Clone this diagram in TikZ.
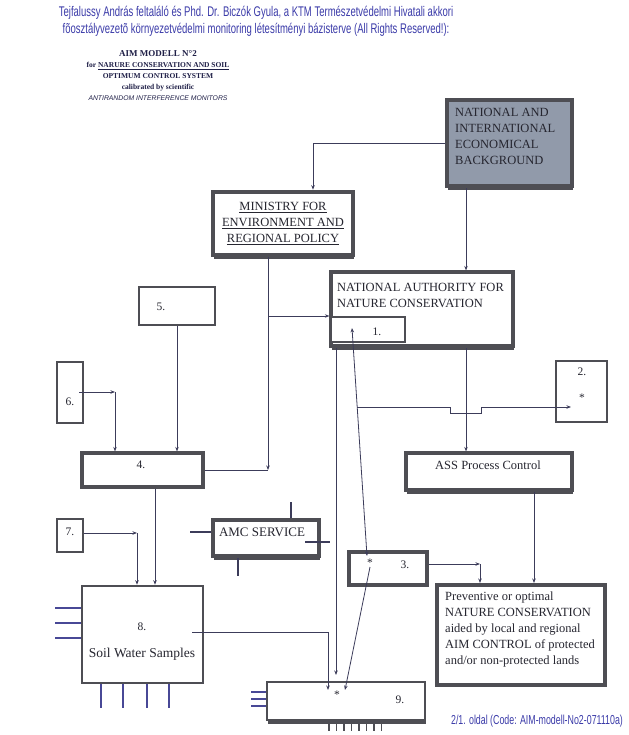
\documentclass[tikz,border=0pt]{standalone}
\usepackage{fontspec}
\setmainfont{Liberation Serif}
\newfontfamily\headfont[FakeStretch=0.68]{Liberation Sans}
\newfontfamily\monitorfont{Liberation Sans}
\usetikzlibrary{arrows.meta,shadows}
\definecolor{headblue}{RGB}{58,58,168}
\definecolor{boxgray}{RGB}{78,78,84}
\definecolor{wire}{RGB}{60,60,90}
\definecolor{ink}{RGB}{38,38,48}
\definecolor{navy}{RGB}{30,30,70}
\definecolor{bgfill}{RGB}{145,154,170}
\definecolor{stubblue}{RGB}{72,72,150}
\tikzset{
	panel/.style={draw=boxgray, line width=3.2bp, fill=white, inner sep=0pt},
	thinpanel/.style={panel, line width=1.6bp},
	shadowed/.style={drop shadow={shadow xshift=1bp, shadow yshift=-4bp, opacity=1, fill=boxgray}},
	txt/.style={inner sep=0pt, text=ink, font=\fontsize{12.5bp}{16bp}\selectfont},
	num/.style={inner sep=0pt, text=ink, font=\fontsize{11.5bp}{14bp}\selectfont},
	wireline/.style={draw=wire, line width=0.8bp},
	arr/.style={wireline, ->},
	stub/.style={draw=stubblue, line width=1.6bp},
}
\begin{document}
\begin{tikzpicture}[x=1bp, y=-1bp, >={Stealth[length=4.5bp,width=3.5bp]}]
	\useasboundingbox (0,0) rectangle (629,735);
	\node (title) [align=center, text=headblue, font=\headfont\fontsize{14bp}{17bp}\selectfont] at (256,21.5) {Tejfalussy András feltaláló és Phd. Dr. Biczók Gyula, a KTM Természetvédelmi Hivatali akkori\\fõosztályvezetõ környezetvédelmi monitoring létesítményi bázisterve (All Rights Reserved!):};
	\node (modell) [align=center, text=navy, font=\bfseries\fontsize{7.5bp}{10.8bp}\selectfont] at (158,75.5) {{\fontsize{9bp}{10.8bp}\selectfont AIM MODELL N°2}\\for \underline{NARURE CONSERVATION AND SOIL}\\OPTIMUM CONTROL SYSTEM\\calibrated by scientific\\{\monitorfont\mdseries\itshape\fontsize{6.8bp}{10.8bp}\selectfont ANTIRANDOM INTERFERENCE MONITORS}};
	\node (footer) [text=headblue, font=\headfont\fontsize{13bp}{15bp}\selectfont] at (537,721) {2/1. oldal (Code: AIM-modell-No2-071110a)};

	\node (background) [panel, line width=4bp, fill=bgfill, shadowed, minimum width=125bp, minimum height=86bp] at (509.5,143) {};
	\node (backgroundtext) [txt, anchor=west, align=left] at (455,136) {NATIONAL AND\\INTERNATIONAL\\ECONOMICAL\\BACKGROUND};
	\node (ministry) [panel, line width=4.5bp, shadowed, minimum width=140bp, minimum height=63bp, align=center, text=ink, font=\fontsize{12.5bp}{16bp}\selectfont] at (283,223.5) {\underline{MINISTRY FOR}\\\underline{ENVIRONMENT AND}\\\underline{REGIONAL POLICY}};
	\node (authority) [panel, shadowed, minimum width=182bp, minimum height=74bp] at (422,309) {};
	\node (authoritytext) [txt, anchor=west, align=left] at (337,295) {NATIONAL AUTHORITY FOR\\NATURE CONSERVATION};
	\node (one) [panel, line width=2bp, minimum width=74bp, minimum height=25bp] at (368,329.5) {};
	\node (onelabel) [num] at (377,332) {1.};
	\node (five) [thinpanel, minimum width=76bp, minimum height=38bp] at (177,306) {};
	\node (fivelabel) [num] at (161,307) {5.};
	\node (six) [panel, line width=2.5bp, minimum width=26bp, minimum height=61bp] at (70,392.5) {};
	\node (sixlabel) [num] at (70,402) {6.};
	\node (four) [panel, minimum width=121bp, minimum height=34bp] at (142.5,470) {};
	\node (fourlabel) [num] at (141,465) {4.};
	\node (two) [panel, line width=2.5bp, minimum width=51bp, minimum height=61bp] at (581.5,391.5) {};
	\node (twolabel) [num] at (582,372) {2.};
	\node (twostar) [num] at (582,398) {*};
	\node (ass) [panel, shadowed, minimum width=166bp, minimum height=37bp] at (489,471.5) {};
	\node (asstext) [txt] at (488,465) {ASS Process Control};
	\node (seven) [panel, line width=2.5bp, minimum width=26bp, minimum height=33bp] at (70,535.5) {};
	\node (sevenlabel) [num] at (70,532) {7.};
	\node (amc) [panel, shadowed, minimum width=106bp, minimum height=36bp] at (266,538) {};
	\node (amctext) [txt, font=\fontsize{13bp}{16bp}\selectfont] at (262,532) {AMC SERVICE};
	\node (three) [panel, minimum width=78bp, minimum height=33bp] at (388,568.5) {};
	\node (threelabel) [num] at (405,565) {3.};
	\node (threestarlabel) [num] at (370,563) {*};
	\node (eight) [panel, line width=2.5bp, minimum width=121bp, minimum height=97bp] at (142.5,634.5) {};
	\node (eightlabel) [num] at (142,627) {8.};
	\node (eighttext) [txt, font=\fontsize{13.5bp}{16bp}\selectfont] at (142,654) {Soil Water Samples};
	\node (preventive) [panel, line width=4bp, minimum width=168bp, minimum height=100bp] at (521,635) {};
	\node (preventivetext) [txt, anchor=west, align=left] at (445,629) {Preventive or optimal\\NATURE CONSERVATION\\aided by local and regional\\AIM CONTROL of protected\\and/or non-protected lands};
	\node (nine) [panel, line width=2.5bp, shadowed, minimum width=158bp, minimum height=38bp] at (346,701) {};
	\node (ninelabel) [num] at (400,700) {9.};
	\node (ninestar) [num] at (337,695) {*};

	\coordinate (bgturn) at (313,143);
	\coordinate (colA) at (466,0);
	\coordinate (colM) at (268,0);
	\coordinate (mbranch) at (268,316);
	\coordinate (sixout) at (79,392);
	\coordinate (sixturn) at (115,392);
	\coordinate (colF) at (155,0);
	\coordinate (seventurn) at (137,533);
	\coordinate (eightout) at (192,632);
	\coordinate (eightturn) at (328,632);
	\coordinate (nineinA) at (328,690);
	\coordinate (nineinB) at (345,690);
	\coordinate (colN) at (336,0);
	\coordinate (ninetop) at (336,675);
	\coordinate (onein) at (352,328);
	\coordinate (threein) at (367,556);
	\coordinate (branch) at (357,407);
	\coordinate (twoin) at (571,407);
	\coordinate (threestar) at (370,567);
	\coordinate (threeturn) at (480,564);
	\coordinate (colP) at (534,0);

	\draw[arr] (background.west) -- (bgturn) -- (bgturn |- ministry.north);
	\draw[arr] (background.south -| colA) -- (authority.north -| colA);
	\draw[arr] (authority.south -| colA) -- (ass.north -| colA);
	\draw[arr] (ministry.south -| colM) -- (colM |- four.east);
	\draw[wireline] (colM |- four.east) -- (four.east);
	\draw[arr] (mbranch) -- (mbranch -| authority.west);
	\draw[arr] (five.south) -- (five.south |- four.north);
	\draw[arr] (sixout) -- (sixturn);
	\draw[arr] (sixturn) -- (sixturn |- four.north);
	\draw[arr] (four.south -| colF) -- (eight.north -| colF);
	\draw[arr] (seven.east |- seventurn) -- (seventurn);
	\draw[arr] (seventurn) -- (seventurn |- eight.north);
	\draw[arr] (eightout) -- (eightturn) -- (nineinA);
	\draw[arr] (authority.south -| colN) -- (ninetop);
	\draw[wireline, <->] (onein) -- (threein);
	\draw[arr] (branch) -- ++(93,0) -- ++(0,6) -- ++(31,0) -- ++(0,-6) -- (twoin);
	\draw[arr] (threestar) -- (nineinB);
	\draw[arr] (three.east |- threeturn) -- (threeturn);
	\draw[arr] (threeturn) -- (threeturn |- preventive.north);
	\draw[arr] (ass.south -| colP) -- (preventive.north -| colP);

	\draw[wireline, line width=1.6bp] (amc.west |- 0,532) -- ++(-21,0);
	\draw[wireline, line width=1.6bp] (amc.north -| 291,0) -- ++(0,-16);
	\draw[wireline, line width=1.6bp] (305,542) -- (330,542);
	\draw[wireline, line width=1.6bp] (amc.south -| 238,0) -- ++(0,18);
	\foreach \y in {608,623,638}
		\draw[stub] (eight.west |- 0,\y) -- ++(-26,0);
	\foreach \x in {101,123,147,169}
		\draw[stub] (eight.south -| \x,0) -- ++(0,24);
	\foreach \y in {692,699,706}
		\draw[stub] (nine.west |- 0,\y) -- ++(-15,0);
	\foreach \x in {329,336.5,...,382}
		\draw[stub, draw=boxgray] (nine.south -| \x,0) -- ++(0,10);
\end{tikzpicture}
\end{document}
